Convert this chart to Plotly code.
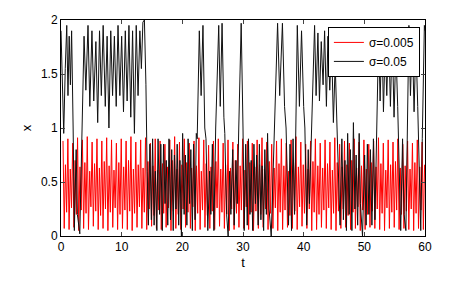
import numpy as np
import plotly.graph_objects as go

# ---------------- data ----------------
# red series (sigma = 0.005): one cycle ~0.8 time units, 4 extrema per cycle
red_t0 = 0.33
red_period = 0.8
red_peak = [0.88, 0.90, 0.86, 0.91, 0.89, 0.92, 0.87, 0.90, 0.88, 0.91,
            0.89, 0.86, 0.90, 0.88, 0.92, 0.87, 0.89, 0.91, 0.86, 0.90,
            0.88, 0.85, 0.89, 0.92, 0.87, 0.90, 0.86, 0.88, 0.91, 0.89,
            0.84, 0.88, 0.90, 0.86, 0.89, 0.87, 0.85, 0.90, 0.88, 0.86,
            0.89, 0.91, 0.87, 0.85, 0.88, 0.90, 0.86, 0.89, 0.92, 0.87,
            0.85, 0.88, 0.90, 0.86, 0.89, 0.87, 0.91, 0.85, 0.88, 0.86,
            0.90, 0.87, 0.89, 0.85, 0.88, 0.91, 0.86, 0.89, 0.87, 0.90,
            0.85, 0.88, 0.86, 0.89, 0.87]
red_trough = [0.07, 0.06, 0.08, 0.05, 0.07, 0.06, 0.09, 0.06, 0.07, 0.05,
              0.08, 0.06, 0.07, 0.06, 0.05, 0.08, 0.07, 0.06, 0.09, 0.07,
              0.06, 0.08, 0.05, 0.07, 0.06, 0.08, 0.07, 0.05, 0.06, 0.08,
              0.07, 0.06, 0.09, 0.07, 0.05, 0.06, 0.08, 0.07, 0.06, 0.05,
              0.07, 0.08, 0.06, 0.07, 0.05, 0.06, 0.08, 0.07, 0.06, 0.09,
              0.07, 0.05, 0.06, 0.08, 0.07, 0.06, 0.05, 0.07, 0.08, 0.06,
              0.07, 0.05, 0.06, 0.08, 0.07, 0.06, 0.05, 0.07, 0.08, 0.06,
              0.07, 0.06, 0.05, 0.07, 0.06]
red_mid_peak = [0.66, 0.62, 0.70, 0.64, 0.68, 0.60, 0.67, 0.63, 0.69, 0.65,
                0.61, 0.68, 0.64, 0.70, 0.62, 0.66, 0.63, 0.69, 0.65, 0.61,
                0.67, 0.64, 0.70, 0.62, 0.66, 0.68, 0.63, 0.65, 0.60, 0.67,
                0.64, 0.69, 0.62, 0.66, 0.63, 0.70, 0.65, 0.61, 0.68, 0.64,
                0.66, 0.62, 0.69, 0.63, 0.67, 0.65, 0.60, 0.68, 0.64, 0.66,
                0.62, 0.69, 0.65, 0.63, 0.67, 0.61, 0.68, 0.64, 0.66, 0.70,
                0.63, 0.65, 0.62, 0.68, 0.64, 0.67, 0.61, 0.66, 0.69, 0.63,
                0.65, 0.62, 0.68, 0.64, 0.66]
red_mid_trough = [0.22, 0.26, 0.20, 0.24, 0.21, 0.27, 0.23, 0.19, 0.25, 0.22,
                  0.26, 0.20, 0.24, 0.23, 0.21, 0.27, 0.22, 0.25, 0.19, 0.24,
                  0.21, 0.26, 0.23, 0.20, 0.25, 0.22, 0.27, 0.21, 0.24, 0.19,
                  0.23, 0.26, 0.22, 0.20, 0.25, 0.21, 0.24, 0.27, 0.22, 0.23,
                  0.20, 0.25, 0.21, 0.26, 0.22, 0.24, 0.19, 0.23, 0.27, 0.21,
                  0.25, 0.22, 0.20, 0.24, 0.26, 0.21, 0.23, 0.25, 0.19, 0.22,
                  0.27, 0.24, 0.20, 0.23, 0.25, 0.21, 0.26, 0.22, 0.24, 0.20,
                  0.23, 0.25, 0.21, 0.24, 0.22]

# black series (sigma = 0.05): extrema (time, value)
black_t = [0.0, 0.2, 0.45, 0.7, 0.95, 1.15, 1.35, 1.55, 1.75, 2.0, 2.2, 2.5, 2.7, 3.1, 3.8,
           4.1, 4.45, 4.75, 5.1, 5.4, 5.75, 6.05, 6.35, 6.65, 6.95, 7.3, 7.6, 7.9, 8.2,
           8.5, 8.8, 9.1, 9.4, 9.7, 10.0, 10.3, 10.6, 10.9, 11.2, 11.5, 11.8, 12.1, 12.4,
           12.7, 13.0, 13.25, 13.5, 13.75, 14.0, 14.2, 14.4,
           14.65, 14.9, 15.1, 15.35, 15.55, 15.8, 16.0, 16.25, 16.45, 16.7, 16.9, 17.15,
           17.35, 17.6, 17.8, 18.05, 18.25, 18.5, 18.7, 18.95, 19.15, 19.4, 19.6, 19.85,
           20.05, 20.3, 20.5, 20.75, 20.95, 21.2, 21.4, 21.65, 21.85, 22.1, 22.3, 22.45,
           22.8, 23.1, 23.4, 23.7, 23.9, 24.2, 24.5, 24.7, 24.95, 25.2, 25.5, 26.0, 26.25,
           26.55, 26.85, 27.0, 27.3, 27.55, 27.8, 28.0, 28.3, 28.55, 28.85, 29.05, 29.3,
           29.7, 30.0, 30.2,
           30.45, 30.7, 30.9, 31.15, 31.35, 31.6, 31.8, 32.05, 32.25, 32.5, 32.7, 32.95,
           33.15, 33.4, 33.6, 33.85, 34.05, 34.3, 34.65, 35.0, 35.2, 35.7, 36.05, 36.5,
           36.85, 37.1, 37.5, 37.75, 38.0, 38.25, 38.5, 38.7, 38.95, 39.3, 39.65, 40.0,
           40.2, 40.5, 40.75, 40.95, 41.3, 41.8, 42.05, 42.35, 42.6, 42.9, 43.2, 43.45,
           43.75, 44.0, 44.3, 44.6, 44.9, 45.2, 45.5, 45.8, 46.0,
           46.3, 46.55, 46.8, 47.05, 47.25, 47.5, 47.7, 47.95, 48.2, 48.45, 48.65, 48.9,
           49.15, 49.35, 49.7, 50.05, 50.3, 50.5, 50.75, 51.0, 51.25, 51.5, 51.75,
           52.1, 52.35, 52.6, 52.9, 53.15, 53.45, 53.7, 54.0, 54.3, 54.6, 54.9, 55.2,
           55.5, 55.75, 56.0, 56.3, 56.55, 56.85, 57.1, 57.35, 57.6, 57.9, 58.2, 58.5,
           58.8, 59.05, 59.3, 59.55, 59.9, 60.0]
black_x = [1.9, 1.45, 0.95, 1.55, 1.95, 1.3, 1.85, 1.4, 1.9, 1.0, 0.05, 0.8, 0.2, 0.02, 1.85,
           1.35, 1.95, 1.2, 1.9, 1.25, 1.8, 1.05, 1.9, 1.3, 1.95, 1.2, 1.85, 1.0, 1.9,
           1.3, 1.85, 1.2, 1.95, 1.3, 1.85, 1.15, 1.9, 1.25, 1.95, 1.1, 1.9, 0.95, 1.95,
           1.3, 1.9, 1.55, 1.98, 2.0, 1.4, 0.6, 0.1,
           0.85, 0.15, 0.9, 0.1, 0.6, 0.05, 0.9, 0.2, 0.85, 0.05, 0.85, 0.3,
           0.7, 0.1, 0.9, 0.15, 0.8, 0.05, 0.75, 0.25, 0.85, 0.1, 0.7, 0.0,
           0.95, 0.2, 0.75, 0.1, 0.9, 0.3, 0.8, 0.05, 0.85, 0.15, 0.95, 0.9,
           1.9, 1.3, 1.95, 1.0, 0.9, 0.05, 0.6, 0.2, 0.85, 0.05, 1.0, 1.95, 1.2,
           1.97, 1.1, 0.95, 0.2, 0.0, 0.6, 0.2, 0.8, 0.1, 0.7, 0.3, 1.0,
           1.97, 1.0, 0.05,
           0.85, 0.1, 0.9, 0.2, 0.7, 0.05, 0.85, 0.3, 0.75, 0.1, 0.85, 0.15,
           0.65, 0.05, 0.8, 0.2, 0.95, 0.25, 0.0, 0.7, 1.1, 1.97, 1.3, 1.97,
           1.2, 1.0, 0.1, 0.85, 0.05, 0.9, 0.2, 1.05, 1.95, 1.2, 1.9, 1.2,
           1.0, 0.1, 0.8, 0.3, 1.05, 1.95, 1.3, 1.88, 1.25, 1.8, 1.4, 1.9,
           1.2, 1.85, 1.35, 1.8, 1.05, 1.6, 1.0, 0.4, 0.1,
           0.9, 0.15, 0.7, 0.05, 0.95, 0.2, 0.8, 0.05, 1.05, 0.25, 0.75, 0.1,
           0.95, 0.3, 0.0, 0.75, 0.1, 0.85, 0.2, 0.8, 0.1, 0.9, 0.15,
           1.1, 1.85, 1.25, 1.9, 1.15, 1.8, 1.3, 1.9, 1.2, 1.85, 1.1, 1.75,
           1.2, 0.5, 0.05, 0.9, 0.2, 0.05, 1.1, 1.95, 1.3, 1.85, 1.15, 1.8,
           1.2, 0.6, 0.05, 0.9, 1.95, 1.9]

x_ticks = [0, 10, 20, 30, 40, 50, 60]
y_ticks = [0, 0.5, 1, 1.5, 2]

# ---------------- build red trace from cycle extrema ----------------
red_t, red_x = [], []
for k in range(len(red_peak)):
    tk = red_t0 + red_period * k
    for off, val in ((0.0, red_peak[k]), (0.2, red_trough[k]),
                     (0.4, red_mid_peak[k]), (0.6, red_mid_trough[k])):
        if tk + off <= 60:
            red_t.append(tk + off)
            red_x.append(val)

fig = go.Figure()
fig.add_trace(go.Scatter(x=red_t, y=red_x, mode="lines", name="σ=0.005",
                         line=dict(color="#ff0000", width=1)))
fig.add_trace(go.Scatter(x=black_t, y=black_x, mode="lines", name="σ=0.05",
                         line=dict(color="#111111", width=1)))

font = "Liberation Sans, Arial, sans-serif"
fig.update_layout(
    width=469, height=287,
    margin=dict(l=61, r=44, t=20, b=51),
    paper_bgcolor="white", plot_bgcolor="white",
    font=dict(family=font, size=12, color="black"),
    showlegend=True,
    legend=dict(x=0.986, y=0.968, xanchor="right", yanchor="top",
                bgcolor="white", bordercolor="black", borderwidth=1,
                font=dict(size=12), tracegroupgap=0, itemwidth=30),
    xaxis=dict(range=[0, 60], tickvals=x_ticks, ticks="inside", ticklen=4,
               showline=True, linecolor="black", linewidth=1, mirror="ticks",
               showgrid=False, zeroline=False,
               title=dict(text="t", standoff=4, font=dict(size=13))),
    yaxis=dict(range=[0, 2], tickvals=y_ticks, ticks="inside", ticklen=4,
               showline=True, linecolor="black", linewidth=1, mirror="ticks",
               showgrid=False, zeroline=False,
               title=dict(text="x", standoff=6, font=dict(size=13))),
)

fig.write_html("out.html", config={"displayModeBar": False},
               post_script="document.body.style.margin='0';document.body.style.overflow='hidden';")
